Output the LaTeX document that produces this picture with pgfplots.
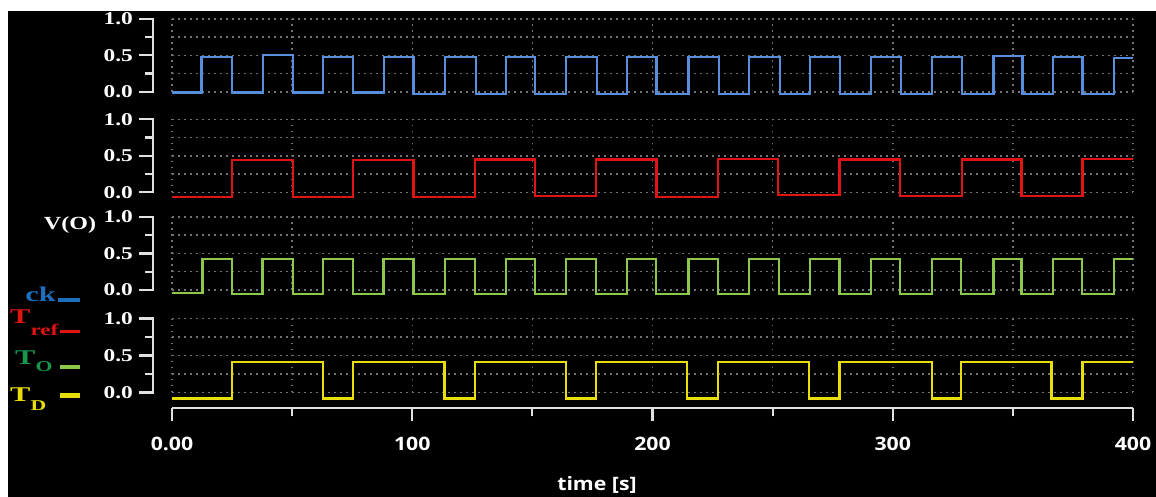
\documentclass[border=0pt]{standalone}
\usepackage{fontspec}
\usepackage{pgfplots}
\pgfplotsset{compat=1.18}
\newfontfamily\serifB[FakeStretch=1.3]{Liberation Serif}
\newfontfamily\serifL[FakeStretch=1.45]{Liberation Serif}
\newfontfamily\sansB[FakeStretch=1.15]{Open Sans}
\definecolor{ckc}{RGB}{88,142,222}
\definecolor{refc}{RGB}{225,20,20}
\definecolor{toc}{RGB}{140,200,75}
\definecolor{tdc}{RGB}{232,222,10}
\definecolor{gridc}{RGB}{115,115,115}
\definecolor{axc}{RGB}{225,225,225}
\definecolor{legck}{RGB}{30,110,190}
\definecolor{legto}{RGB}{25,150,75}
\pgfplotsset{
 panel/.style={
  scale only axis, width=961pt, height=73pt,
  xmin=0,xmax=400,ymin=0,ymax=1, clip=false,
  axis line style={draw=none},
  xtick={0,50,...,400}, xticklabels={},
  ytick={0,0.25,0.5,0.75,1}, yticklabels={0.0,,0.5,,1.0},
  major tick length=0pt, tick style={draw=none},
  grid=major, major grid style={gridc, line width=1.5pt, dash pattern=on 1.5pt off 4.5pt},
  yticklabel style={font=\serifB\bfseries\fontsize{18}{18}\selectfont, text=white, anchor=east, inner sep=0pt, xshift=-39pt},
 },
 sig/.style={const plot, line width=2.2pt, no marks},
}
\tikzset{brk/.style={axc, line width=2.2pt}}
\newcommand\ybracket{%
 \draw[brk] ([xshift=-19pt]rel axis cs:0,0) -- ([xshift=-19pt]rel axis cs:0,1);
 \draw[brk] ([xshift=-33pt]rel axis cs:0,0) -- ([xshift=-18pt]rel axis cs:0,0);
 \draw[brk] ([xshift=-33pt]rel axis cs:0,0.5) -- ([xshift=-18pt]rel axis cs:0,0.5);
 \draw[brk] ([xshift=-33pt]rel axis cs:0,1) -- ([xshift=-18pt]rel axis cs:0,1);
 \draw[brk] ([xshift=-27pt]rel axis cs:0,0.25) -- ([xshift=-18pt]rel axis cs:0,0.25);
 \draw[brk] ([xshift=-27pt]rel axis cs:0,0.75) -- ([xshift=-18pt]rel axis cs:0,0.75);
}
\begin{document}
\begin{tikzpicture}[x=1pt,y=1pt]
\useasboundingbox (0,0) rectangle (1156,497);
\fill[white] (0,0) rectangle (1156,497);
\fill[black] (8,0) rectangle (1156,486);
% ck
\begin{axis}[panel, at={(172pt,405.2pt)}, anchor=south west]
\addplot[sig, ckc] coordinates {(0,-0.01) (12.3,0.48) (25.1,-0.01) (38,0.50) (50.5,-0.01) (63,0.48) (75.5,-0.01) (88.2,0.48) (100.5,-0.03) (113.6,0.48) (126.5,-0.03) (139,0.48) (151,-0.03) (164,0.48) (176.8,-0.03) (189.3,0.48) (201.7,-0.03) (215,0.48) (227.8,-0.03) (240.3,0.48) (253,-0.03) (265.6,0.48) (278,-0.03) (290.8,0.48) (303.3,-0.03) (316.2,0.48) (328.7,-0.03) (341.9,0.49) (354,-0.03) (366.7,0.48) (379,-0.03) (392,0.46) (400,0.46)};
\ybracket
\end{axis}
% Tref
\begin{axis}[panel, at={(172pt,304.7pt)}, anchor=south west]
\addplot[sig, refc] coordinates {(0,-0.06) (25.1,0.44) (50.2,-0.06) (75.5,0.44) (100.5,-0.06) (126.1,0.45) (151.1,-0.05) (176.4,0.45) (201.7,-0.06) (227.1,0.46) (252.1,-0.04) (277.8,0.45) (303,-0.05) (328.7,0.45) (353.6,-0.05) (379,0.46) (400,0.46)};
\ybracket
\end{axis}
% TO
\begin{axis}[panel, at={(172pt,207pt)}, anchor=south west]
\addplot[sig, toc] coordinates {(0,-0.045) (12.7,0.43) (25.1,-0.05) (37.7,0.43) (50.5,-0.05) (63,0.43) (75.5,-0.06) (88,0.43) (100.5,-0.05) (113.6,0.43) (126.1,-0.05) (139,0.43) (151.1,-0.05) (164,0.43) (176.5,-0.05) (189.3,0.43) (201.5,-0.05) (215,0.43) (227.4,-0.05) (240.3,0.43) (252.8,-0.06) (265.6,0.43) (277.8,-0.06) (290.8,0.43) (303,-0.06) (316.2,0.43) (328.4,-0.06) (341.9,0.43) (353.6,-0.05) (366.6,0.43) (378.9,-0.06) (392,0.43) (400,0.43)};
\ybracket
\end{axis}
% TD
\begin{axis}[panel, height=74pt, at={(172pt,104.5pt)}, anchor=south west]
\addplot[sig, tdc] coordinates {(0,-0.08) (25.1,0.41) (63,-0.08) (75.5,0.41) (113.4,-0.08) (126.1,0.41) (164,-0.08) (176.5,0.41) (214.2,-0.08) (227.1,0.41) (265.3,-0.08) (277.8,0.41) (316.2,-0.08) (328.4,0.41) (366.1,-0.08) (379,0.41) (400,0.41)};
\ybracket
\end{axis}
% time axis
\begin{axis}[at={(172pt,88.7pt)}, anchor=south west, scale only axis, width=961pt, height=10pt,
 xmin=0,xmax=400,ymin=0,ymax=1,
 axis x line=bottom, axis y line=none, axis line style={-, axc, line width=2.2pt},
 xtick={0,100,200,300,400}, minor xtick={50,150,250,350}, xticklabels={0.00,100,200,300,400},
 tick align=outside, major tick length=13pt, minor tick length=8pt, tick style={axc, line width=2.2pt},
 xticklabel style={font=\sansB\bfseries\fontsize{18.5}{20}\selectfont, text=white, anchor=north, inner sep=0pt, yshift=-16pt},
 xlabel={time [s]}, xlabel style={font=\sansB\bfseries\fontsize{18.5}{20}\selectfont, text=white, at={(axis description cs:0.4422,-7.67)}, anchor=center},
]
\addplot[draw=none] coordinates {(0,0.5)};
\end{axis}
% labels and legend
\node[text=white, font=\serifB\bfseries\fontsize{18.5}{18}\selectfont] at (70,272) {V(O)};
\node[anchor=base east, inner sep=0pt, text=legck, font=\serifL\bfseries\fontsize{21}{21}\selectfont] at (56,195.3) {ck};
\fill[legck] (58,195.2) rectangle (80,198.7);
\node[anchor=base west, inner sep=0pt, text=refc, font=\serifL\bfseries\fontsize{21}{21}\selectfont] at (10,173.7) {T\raisebox{-12pt}{\fontsize{16}{16}\selectfont ref}};
\fill[refc] (60,163.5) rectangle (80,167.2);
\node[anchor=base west, inner sep=0pt, text=legto, font=\serifL\bfseries\fontsize{21}{21}\selectfont] at (15,132) {T\raisebox{-7pt}{\fontsize{15}{15}\selectfont O}};
\fill[toc] (60,128) rectangle (80,131.5);
\node[anchor=base west, inner sep=0pt, text=tdc, font=\serifL\bfseries\fontsize{21}{21}\selectfont] at (10,95.3) {T\raisebox{-8.5pt}{\fontsize{15}{15}\selectfont D}};
\fill[tdc] (60,98.5) rectangle (80,103.5);
\end{tikzpicture}
\end{document}
